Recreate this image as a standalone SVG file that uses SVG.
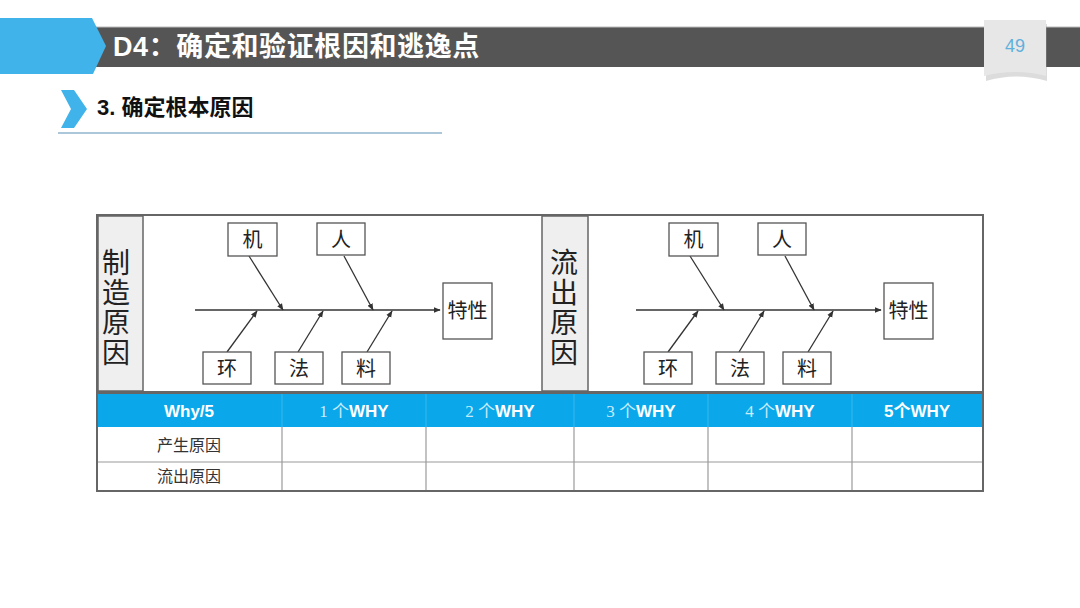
<svg xmlns="http://www.w3.org/2000/svg" width="1080" height="608" viewBox="0 0 1080 608">
<defs>
<style>
.cjk{font-family:"Noto Sans CJK SC","Liberation Sans",sans-serif;}
.box{fill:#fff;stroke:#555;stroke-width:1.3;}
.lbl{font-family:"Noto Sans CJK SC",sans-serif;font-size:20px;fill:#222;text-anchor:middle;}
.vlbl{font-family:"Noto Sans CJK SC",sans-serif;font-size:28px;fill:#222;writing-mode:vertical-rl;letter-spacing:2px;}
.ln{stroke:#333;stroke-width:1.3;fill:none;marker-end:url(#ah);}
.hd{font-family:"Liberation Sans","Noto Sans CJK SC",sans-serif;font-size:17px;font-weight:bold;fill:#fff;text-anchor:middle;}
.thin{font-family:"Liberation Serif","Noto Sans CJK SC",serif;font-weight:normal;fill:#c8ecfb;}
.row{font-family:"Noto Sans CJK SC",sans-serif;font-size:16px;fill:#333;text-anchor:middle;}
.grid{stroke:#9a9a9a;stroke-width:1.2;}
</style>
<marker id="ah" viewBox="0 0 10 10" refX="9" refY="5" markerWidth="7" markerHeight="7" orient="auto" markerUnits="userSpaceOnUse">
<path d="M0,1 L10,5 L0,9 Z" fill="#333"/>
</marker>
<g id="fish">
<g class="connectors">
<line class="ln" x1="195" y1="310" x2="440" y2="310"/>
<line class="ln" x1="249" y1="256" x2="283" y2="310"/>
<line class="ln" x1="344" y1="256" x2="373" y2="310"/>
<line class="ln" x1="227" y1="352" x2="257" y2="311"/>
<line class="ln" x1="298" y1="352" x2="323" y2="311"/>
<line class="ln" x1="367" y1="352" x2="392" y2="311"/>
</g>
<g><rect class="box" x="228" y="223" width="49" height="33"/><text class="lbl" x="252.5" y="247">机</text></g>
<g><rect class="box" x="317" y="223" width="48" height="32"/><text class="lbl" x="341" y="246.5">人</text></g>
<g><rect class="box" x="203" y="352" width="48" height="32"/><text class="lbl" x="227" y="375.5">环</text></g>
<g><rect class="box" x="275" y="352" width="48" height="32"/><text class="lbl" x="299" y="375.5">法</text></g>
<g><rect class="box" x="342" y="352" width="48" height="32"/><text class="lbl" x="366" y="375.5">料</text></g>
<g><rect class="box" x="443" y="283" width="49" height="56"/><text class="lbl" x="467.5" y="318">特性</text></g>
</g>
</defs>
<rect width="1080" height="608" fill="#fff"/>

<!-- header -->
<g id="header">
<rect x="95" y="27" width="985" height="40" fill="#555"/>
<line x1="95" y1="27" x2="1080" y2="27" stroke="#bbb" stroke-width="1"/>
<polygon points="0,18 92,18 106,46 93,74 0,74" fill="#3fb3ea"/>
<text x="113" y="56" font-family="Liberation Sans,'Noto Sans CJK SC',sans-serif" font-size="27" font-weight="bold" fill="#fff" letter-spacing="0.6">D4<tspan class="cjk">：确定和验证根因和逃逸点</tspan></text>
</g>
<g id="pagetag">
<path d="M985,22 L1046,22 L1046,79 Q1015,70 985,79 Z" fill="#9a9a9a" opacity="0.35" transform="translate(1,2)"/>
<path d="M984,20 L1046,20 L1046,76 Q1015,68 984,76 Z" fill="#e7e7e7"/>
<text x="1015" y="52" font-family="Liberation Sans,sans-serif" font-size="18" fill="#5fb0dc" text-anchor="middle">49</text>
</g>
<g id="subtitle">
<polygon points="61,90 74,90 87,109 74,128 61,128 71,109" fill="#3fb3ea"/>
<text x="97" y="115" font-family="Liberation Sans,'Noto Sans CJK SC',sans-serif" font-size="22" font-weight="bold" fill="#111">3. <tspan class="cjk">确定根本原因</tspan></text>
<line x1="58" y1="133" x2="442" y2="133" stroke="#8fb4cc" stroke-width="1.5"/>
</g>

<!-- fishbone panel -->
<g id="panel">
<rect x="97" y="215" width="886" height="177" fill="#fff" stroke="#666" stroke-width="2"/>
<rect x="98" y="216" width="45" height="175" fill="#efefef" stroke="#666" stroke-width="1.5"/>
<rect x="542" y="216" width="46" height="175" fill="#efefef" stroke="#666" stroke-width="1.5"/>
</g>
<g id="label-zhizao">
<text class="vlbl" x="116" y="248">制造原因</text>
</g>
<g id="label-liuchu">
<text class="vlbl" x="564" y="248">流出原因</text>
</g>
<g id="fishbone1"><use href="#fish"/></g>
<g id="fishbone2"><use href="#fish" transform="translate(441,0)"/></g>

<!-- table -->
<g id="table">
<rect x="97" y="393" width="886" height="34" fill="#0aa8ea"/>
<line class="grid" x1="97" y1="462" x2="983" y2="462"/>
<line class="grid" x1="282" y1="427" x2="282" y2="491"/>
<line class="grid" x1="426" y1="427" x2="426" y2="491"/>
<line class="grid" x1="574" y1="427" x2="574" y2="491"/>
<line class="grid" x1="708" y1="427" x2="708" y2="491"/>
<line class="grid" x1="852" y1="427" x2="852" y2="491"/>
<line x1="282" y1="394" x2="282" y2="427" stroke="#3bb8ee" stroke-width="1"/>
<line x1="426" y1="394" x2="426" y2="427" stroke="#3bb8ee" stroke-width="1"/>
<line x1="574" y1="394" x2="574" y2="427" stroke="#3bb8ee" stroke-width="1"/>
<line x1="708" y1="394" x2="708" y2="427" stroke="#3bb8ee" stroke-width="1"/>
<line x1="852" y1="394" x2="852" y2="427" stroke="#3bb8ee" stroke-width="1"/>
<rect x="97" y="393" width="886" height="98" fill="none" stroke="#666" stroke-width="2"/>
<text class="hd" x="189" y="417">Why/5</text>
<text class="hd" x="354" y="417"><tspan class="thin">1 个</tspan>WHY</text>
<text class="hd" x="500" y="417"><tspan class="thin">2 个</tspan>WHY</text>
<text class="hd" x="641" y="417"><tspan class="thin">3 个</tspan>WHY</text>
<text class="hd" x="780" y="417"><tspan class="thin">4 个</tspan>WHY</text>
<text class="hd" x="917" y="417">5<tspan class="cjk">个</tspan>WHY</text>
<text class="row" x="189" y="451">产生原因</text>
<text class="row" x="189" y="482">流出原因</text>
</g>
</svg>
